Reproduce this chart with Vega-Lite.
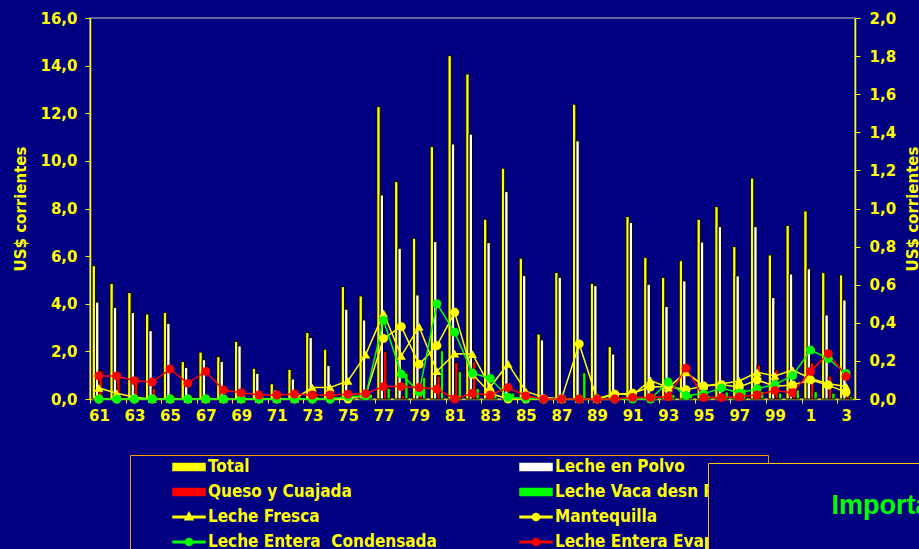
{
  "$schema": "https://vega.github.io/schema/vega-lite/v6.json",
  "width": 765,
  "height": 381,
  "autosize": {"type": "none"},
  "padding": {"left": 90, "top": 18, "right": 64, "bottom": 150},
  "background": "#000080",
  "config": {
    "view": {"stroke": "#8484A8", "strokeWidth": 1.5},
    "axis": {
      "labelColor": "#FFFF00", "labelFont": "DejaVu Sans", "labelFontWeight": "bold", "labelFontSize": 15,
      "domainColor": "#FFFF00", "tickColor": "#FFFF00", "titleColor": "#FFFF00",
      "titleFont": "DejaVu Sans", "titleFontWeight": "bold", "titleFontSize": 15,
      "grid": false, "tickSize": 5, "domainWidth": 1.5
    }
  },
  "data": {"values": [
    {"year": 1961, "total": 5.6, "polvo": 4.07, "queso": 1.2, "vaca": 0.05, "fresca": 0.058, "mantequilla": 0.0, "condensada": 0.0, "evaporada": 0.121},
    {"year": 1962, "total": 4.86, "polvo": 3.84, "queso": 0.9, "vaca": 0.05, "fresca": 0.03, "mantequilla": 0.0, "condensada": 0.0, "evaporada": 0.121},
    {"year": 1963, "total": 4.47, "polvo": 3.63, "queso": 0.7, "vaca": 0.05, "fresca": 0.009, "mantequilla": 0.0, "condensada": 0.0, "evaporada": 0.096},
    {"year": 1964, "total": 3.57, "polvo": 2.87, "queso": 0.45, "vaca": 0.05, "fresca": 0.0, "mantequilla": 0.0, "condensada": 0.0, "evaporada": 0.089},
    {"year": 1965, "total": 3.63, "polvo": 3.18, "queso": 0.2, "vaca": 0.05, "fresca": 0.0, "mantequilla": 0.0, "condensada": 0.0, "evaporada": 0.157},
    {"year": 1966, "total": 1.57, "polvo": 1.33, "queso": 0.1, "vaca": 0.05, "fresca": 0.0, "mantequilla": 0.0, "condensada": 0.0, "evaporada": 0.082},
    {"year": 1967, "total": 1.97, "polvo": 1.65, "queso": 0.1, "vaca": 0.05, "fresca": 0.0, "mantequilla": 0.0, "condensada": 0.0, "evaporada": 0.145},
    {"year": 1968, "total": 1.78, "polvo": 1.58, "queso": 0.1, "vaca": 0.05, "fresca": 0.0, "mantequilla": 0.0, "condensada": 0.0, "evaporada": 0.047},
    {"year": 1969, "total": 2.42, "polvo": 2.23, "queso": 0.1, "vaca": 0.05, "fresca": 0.0, "mantequilla": 0.0, "condensada": 0.0, "evaporada": 0.033},
    {"year": 1970, "total": 1.29, "polvo": 1.08, "queso": 0.05, "vaca": 0.05, "fresca": 0.0, "mantequilla": 0.0, "condensada": 0.0, "evaporada": 0.021},
    {"year": 1971, "total": 0.64, "polvo": 0.38, "queso": 0.05, "vaca": 0.05, "fresca": 0.0, "mantequilla": 0.0, "condensada": 0.0, "evaporada": 0.021},
    {"year": 1972, "total": 1.25, "polvo": 0.84, "queso": 0.05, "vaca": 0.1, "fresca": 0.0, "mantequilla": 0.0, "condensada": 0.0, "evaporada": 0.026},
    {"year": 1973, "total": 2.79, "polvo": 2.58, "queso": 0.1, "vaca": 0.1, "fresca": 0.06, "mantequilla": 0.0, "condensada": 0.0, "evaporada": 0.021},
    {"year": 1974, "total": 2.09, "polvo": 1.4, "queso": 0.1, "vaca": 0.1, "fresca": 0.06, "mantequilla": 0.0, "condensada": 0.0, "evaporada": 0.021},
    {"year": 1975, "total": 4.72, "polvo": 3.77, "queso": 0.2, "vaca": 0.15, "fresca": 0.095, "mantequilla": 0.0, "condensada": 0.012, "evaporada": 0.025},
    {"year": 1976, "total": 4.33, "polvo": 3.32, "queso": 0.3, "vaca": 0.2, "fresca": 0.233, "mantequilla": 0.02, "condensada": 0.017, "evaporada": 0.028},
    {"year": 1977, "total": 12.28, "polvo": 8.57, "queso": 2.0, "vaca": 0.45, "fresca": 0.45, "mantequilla": 0.318, "condensada": 0.413, "evaporada": 0.065},
    {"year": 1978, "total": 9.13, "polvo": 6.33, "queso": 0.15, "vaca": 1.08, "fresca": 0.226, "mantequilla": 0.38, "condensada": 0.131, "evaporada": 0.065},
    {"year": 1979, "total": 6.75, "polvo": 4.37, "queso": 0.15, "vaca": 0.9, "fresca": 0.38, "mantequilla": 0.182, "condensada": 0.036, "evaporada": 0.06},
    {"year": 1980, "total": 10.6, "polvo": 6.61, "queso": 0.95, "vaca": 2.03, "fresca": 0.146, "mantequilla": 0.28, "condensada": 0.5, "evaporada": 0.052},
    {"year": 1981, "total": 14.42, "polvo": 10.71, "queso": 1.53, "vaca": 1.15, "fresca": 0.238, "mantequilla": 0.455, "condensada": 0.35, "evaporada": 0.0},
    {"year": 1982, "total": 13.65, "polvo": 11.12, "queso": 1.57, "vaca": 0.45, "fresca": 0.236, "mantequilla": 0.13, "condensada": 0.136, "evaporada": 0.03},
    {"year": 1983, "total": 7.55, "polvo": 6.57, "queso": 0.2, "vaca": 0.15, "fresca": 0.063, "mantequilla": 0.03, "condensada": 0.108, "evaporada": 0.021},
    {"year": 1984, "total": 9.69, "polvo": 8.71, "queso": 0.2, "vaca": 0.25, "fresca": 0.185, "mantequilla": 0.0, "condensada": 0.009, "evaporada": 0.06},
    {"year": 1985, "total": 5.91, "polvo": 5.18, "queso": 0.1, "vaca": 0.1, "fresca": 0.04, "mantequilla": 0.0, "condensada": 0.003, "evaporada": 0.016},
    {"year": 1986, "total": 2.73, "polvo": 2.48, "queso": 0.05, "vaca": 0.05, "fresca": 0.009, "mantequilla": 0.0, "condensada": 0.0, "evaporada": 0.0},
    {"year": 1987, "total": 5.31, "polvo": 5.11, "queso": 0.05, "vaca": 0.05, "fresca": 0.0, "mantequilla": 0.0, "condensada": 0.0, "evaporada": 0.0},
    {"year": 1988, "total": 12.38, "polvo": 10.84, "queso": 0.05, "vaca": 1.1, "fresca": 0.0, "mantequilla": 0.289, "condensada": 0.0, "evaporada": 0.0},
    {"year": 1989, "total": 4.86, "polvo": 4.76, "queso": 0.05, "vaca": 0.05, "fresca": 0.0, "mantequilla": 0.0, "condensada": 0.0, "evaporada": 0.0},
    {"year": 1990, "total": 2.2, "polvo": 1.89, "queso": 0.05, "vaca": 0.05, "fresca": 0.03, "mantequilla": 0.025, "condensada": 0.0, "evaporada": 0.0},
    {"year": 1991, "total": 7.66, "polvo": 7.41, "queso": 0.1, "vaca": 0.1, "fresca": 0.02, "mantequilla": 0.03, "condensada": 0.0, "evaporada": 0.008},
    {"year": 1992, "total": 5.95, "polvo": 4.82, "queso": 0.2, "vaca": 0.15, "fresca": 0.098, "mantequilla": 0.063, "condensada": 0.0, "evaporada": 0.008},
    {"year": 1993, "total": 5.11, "polvo": 3.89, "queso": 0.3, "vaca": 0.2, "fresca": 0.06, "mantequilla": 0.065, "condensada": 0.089, "evaporada": 0.012},
    {"year": 1994, "total": 5.81, "polvo": 4.96, "queso": 0.2, "vaca": 0.2, "fresca": 0.14, "mantequilla": 0.049, "condensada": 0.019, "evaporada": 0.162},
    {"year": 1995, "total": 7.55, "polvo": 6.59, "queso": 0.1, "vaca": 0.15, "fresca": 0.069, "mantequilla": 0.068, "condensada": 0.027, "evaporada": 0.008},
    {"year": 1996, "total": 8.08, "polvo": 7.24, "queso": 0.1, "vaca": 0.3, "fresca": 0.08, "mantequilla": 0.075, "condensada": 0.058, "evaporada": 0.008},
    {"year": 1997, "total": 6.4, "polvo": 5.17, "queso": 0.2, "vaca": 0.42, "fresca": 0.095, "mantequilla": 0.063, "condensada": 0.032, "evaporada": 0.012},
    {"year": 1998, "total": 9.28, "polvo": 7.24, "queso": 1.43, "vaca": 0.31, "fresca": 0.14, "mantequilla": 0.1, "condensada": 0.054, "evaporada": 0.021},
    {"year": 1999, "total": 6.05, "polvo": 4.26, "queso": 1.22, "vaca": 0.25, "fresca": 0.121, "mantequilla": 0.067, "condensada": 0.076, "evaporada": 0.045},
    {"year": 2000, "total": 7.29, "polvo": 5.25, "queso": 0.2, "vaca": 0.38, "fresca": 0.152, "mantequilla": 0.073, "condensada": 0.123, "evaporada": 0.033},
    {"year": 2001, "total": 7.9, "polvo": 5.47, "queso": 1.52, "vaca": 0.31, "fresca": 0.108, "mantequilla": 0.1, "condensada": 0.257, "evaporada": 0.145},
    {"year": 2002, "total": 5.31, "polvo": 3.53, "queso": 0.97, "vaca": 0.25, "fresca": 0.08, "mantequilla": 0.073, "condensada": 0.212, "evaporada": 0.238},
    {"year": 2003, "total": 5.21, "polvo": 4.16, "queso": 0.2, "vaca": 0.1, "fresca": 0.066, "mantequilla": 0.035, "condensada": 0.134, "evaporada": 0.119}
  ]},
  "layer": [
    {
      "transform": [{"fold": ["total", "polvo", "queso", "vaca"], "as": ["serie", "value"]}],
      "mark": {"type": "bar", "stroke": "#000000", "strokeWidth": 1},
      "encoding": {
        "x": {
          "field": "year", "type": "ordinal",
          "scale": {"paddingInner": 0.24, "paddingOuter": 0.12},
          "axis": {
            "title": null,
            "values": [1961, 1963, 1965, 1967, 1969, 1971, 1973, 1975, 1977, 1979, 1981, 1983, 1985, 1987, 1989, 1991, 1993, 1995, 1997, 1999, 2001, 2003],
            "labelExpr": "'' + (datum.value % 100)",
            "labelAngle": 0, "tickOffset": -8.9, "labelOffset": 8.9, "labelPadding": 5, "tickSize": 4,
            "domainColor": "#C8C030"
          }
        },
        "xOffset": {"field": "serie", "type": "nominal", "scale": {"domain": ["total", "polvo", "queso", "vaca"]}},
        "y": {
          "field": "value", "type": "quantitative",
          "scale": {"domain": [0, 16], "nice": false},
          "axis": {
            "orient": "left",
            "values": [0, 2, 4, 6, 8, 10, 12, 14, 16],
            "labelExpr": "replace(format(datum.value, '.1f'), '.', ',')",
            "title": "US$ corrientes", "labelPadding": 8,
            "titleAngle": 270, "titleBaseline": "middle", "titleX": -70, "titleY": 190.5
          }
        },
        "color": {
          "field": "serie", "type": "nominal",
          "scale": {
            "domain": ["total", "polvo", "queso", "vaca", "fresca", "mantequilla", "condensada", "evaporada"],
            "range": ["#FFFF00", "#FFFFFF", "#FF0000", "#00FF00", "#FFFF00", "#FFFF00", "#00FF00", "#FF0000"]
          },
          "legend": {
            "orient": "none", "legendX": 40, "legendY": 437, "columns": 2, "direction": "horizontal",
            "title": "\u00a0", "titleOrient": "left", "titlePadding": 39,
            "padding": 3, "strokeColor": "#FF9900", "fillColor": "#000080",
            "labelColor": "#FFFF00", "labelFont": "DejaVu Sans Condensed, DejaVu Sans", "labelFontWeight": "bold", "labelFontSize": 17,
            "labelLimit": 400,
            "symbolSize": 256, "symbolOffset": 8, "labelOffset": 10, "rowPadding": 8, "columnPadding": 80,
            "symbolType": {"expr": "indexof(['total','polvo','queso','vaca'], datum.value) >= 0 ? 'M-2,-0.45H2V0.45H-2Z' : datum.value == 'fresca' ? 'M-2,-0.1H2V0.1H-2Z M0,-0.55L0.5,0.35L-0.5,0.35Z' : 'M-2,-0.1H2V0.1H-2Z M0.45,0A0.45,0.45 0 1,1 -0.45,0A0.45,0.45 0 1,1 0.45,0Z'"},
            "symbolStrokeColor": {"expr": "indexof(['total','polvo','queso','vaca'], datum.value) >= 0 ? '#000000' : 'transparent'"},
            "symbolStrokeWidth": 1.5,
            "symbolOpacity": 1,
            "labelExpr": "datum.value == 'total' ? 'Total' : datum.value == 'polvo' ? 'Leche en Polvo' : datum.value == 'queso' ? 'Queso y Cuajada' : datum.value == 'vaca' ? 'Leche Vaca desn Polvo' : datum.value == 'fresca' ? 'Leche Fresca' : datum.value == 'mantequilla' ? 'Mantequilla' : datum.value == 'condensada' ? 'Leche Entera\u00a0 Condensada' : 'Leche Entera Evaporada'"
          }
        }
      }
    },
    {
      "transform": [{"fold": ["fresca", "mantequilla", "condensada", "evaporada"], "as": ["serie", "value"]}],
      "encoding": {
        "x": {"field": "year", "type": "ordinal"},
        "y": {
          "field": "value", "type": "quantitative",
          "scale": {"domain": [0, 2], "nice": false},
          "axis": {
            "orient": "right",
            "values": [0, 0.2, 0.4, 0.6, 0.8, 1, 1.2, 1.4, 1.6, 1.8, 2],
            "labelExpr": "replace(format(datum.value, '.1f'), '.', ',')",
            "title": "US$ corrientes", "labelPadding": 9,
            "titleAngle": 270, "titleBaseline": "middle", "titleX": 57, "titleY": 190.5
          }
        },
        "color": {"field": "serie", "type": "nominal"}
      },
      "layer": [
        {"mark": {"type": "line", "strokeWidth": 1.5}},
        {
          "mark": {"type": "point", "filled": true, "size": 80, "opacity": 1},
          "encoding": {
            "shape": {
              "field": "serie", "type": "nominal",
              "scale": {"domain": ["fresca", "mantequilla", "condensada", "evaporada"], "range": ["triangle-up", "circle", "circle", "circle"]},
              "legend": {
                "orient": "none", "legendX": 618, "legendY": 445,
                "title": "\u2800\u2800\u2800\u2800\u2002Importaciones",
                "titleColor": "#00FF00", "titleFont": "Liberation Sans", "titleFontWeight": "bold", "titleFontSize": 27, "titleLimit": 2000,
                "padding": 30, "strokeColor": "#FFC000", "fillColor": "#000080",
                "symbolOpacity": 0, "labelOpacity": 0
              }
            }
          }
        }
      ]
    }
  ],
  "resolve": {"scale": {"y": "independent"}}
}
